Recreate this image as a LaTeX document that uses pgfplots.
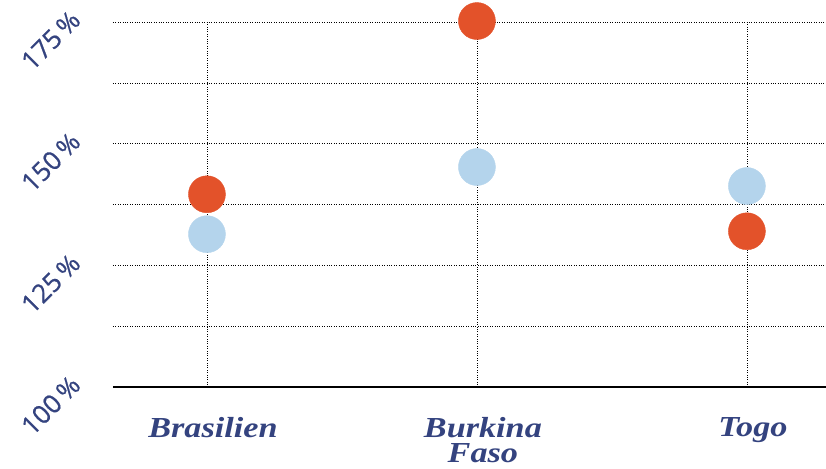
\documentclass[border=0pt]{standalone}
\usepackage{pgfplots}
\pgfplotsset{compat=1.18}
\usepackage{fontspec}
\setmainfont{Liberation Serif}
\newfontfamily\ysans[FakeBold=0.6]{Open Sans}
\newfontfamily\xserif[FakeStretch=1.18]{Liberation Serif}
\definecolor{navy}{HTML}{34437F}
\definecolor{dorange}{HTML}{E3522A}
\definecolor{lblue}{HTML}{B4D4EC}
\begin{document}
\begin{tikzpicture}
\path[use as bounding box] (-113pt,-81pt) rectangle (713pt,387pt);
\begin{axis}[
  at={(0,0)}, anchor=south west,
  scale only axis, width=713pt, height=365pt,
  xmin=-0.348, xmax=2.293, ymin=100, ymax=175,
  clip=false,
  axis x line*=bottom, axis y line*=left,
  x axis line style={line width=2.5pt, -},
  y axis line style={draw=none},
  xtick={0,1,2},
  xticklabels={Brasilien,{Burkina\\Faso},Togo},
  ytick={100,125,150,175},
  yticklabels={100\,\%,125\,\%,150\,\%,175\,\%},
  minor ytick={112.5,137.5,162.5},
  major tick length=0pt, minor tick length=0pt,
  ymajorgrids, yminorgrids, xmajorgrids,
  major grid style={dotted, black, line width=0.6pt},
  minor grid style={dotted, black, line width=0.6pt},
  xticklabel style={font=\xserif\fontsize{29}{25}\selectfont\bfseries\itshape, text=navy, align=center, inner sep=0pt, yshift=-30pt, xshift=6pt, anchor=north},
  yticklabel style={font=\ysans\fontsize{26}{26}\selectfont, text=navy, xshift=-35pt, yshift=9pt, rotate=45, anchor=east},
]
\addplot[only marks, mark=*, mark size=18.5pt, color=lblue] coordinates {(0,131.4) (1,145.2) (2,141.3)};
\addplot[only marks, mark=*, mark size=18.5pt, color=dorange] coordinates {(0,139.6) (1,175.2) (2,132.0)};
\end{axis}
\end{tikzpicture}
\end{document}
